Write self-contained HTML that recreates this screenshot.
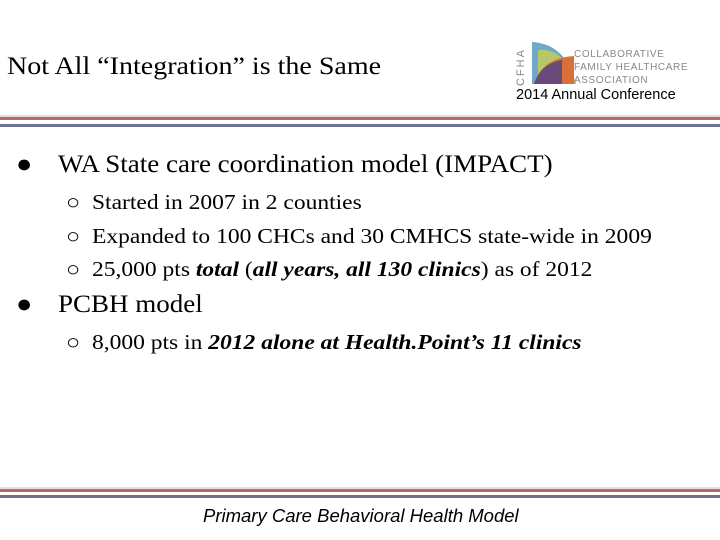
<!DOCTYPE html>
<html><head><meta charset="utf-8"><style>
body{margin:0;width:720px;height:540px;background:#fff;position:relative;overflow:hidden;font-family:"Liberation Serif",serif;}
.a{position:absolute;white-space:nowrap;transform-origin:0 0;}
.red{position:absolute;left:0;width:720px;height:3px;background:#b86a66;}
.blue{position:absolute;left:0;width:720px;height:3px;background:#6e7290;}
.shade{position:absolute;left:0;width:720px;height:3px;background:#e6dde2;}
.main{font-size:25px;transform:scaleX(1.08);}
.sub{font-size:21px;transform:scaleX(1.12);}
</style></head><body>
<div class="a" style="left:7px;top:53px;font-size:25px;transform:scaleX(1.12);">Not All “Integration” is the Same</div>
<svg style="position:absolute;left:512px;top:36px" width="190" height="52">
<text x="12" y="50" transform="rotate(-90 12 50)" font-family="Liberation Sans" font-size="11" fill="#888" letter-spacing="2">CFHA</text>
<path d="M20 6 Q54 8 64 48 L20 48Z" fill="#6fa8c8"/>
<path d="M26 14 Q52 11 64 48 L26 48Z" fill="#c8d050" opacity=".8"/>
<path d="M22 48 Q30 22 62 20 L62 48Z" fill="#d87038"/>
<path d="M22 48 Q28 28 50 24 L50 48Z" fill="#6a4a7a"/>
<text x="62" y="21" font-family="Liberation Sans" font-size="10" fill="#888" letter-spacing="0.6">COLLABORATIVE</text>
<text x="62" y="34" font-family="Liberation Sans" font-size="10" fill="#888" letter-spacing="0.6">FAMILY HEALTHCARE</text>
<text x="62" y="47" font-family="Liberation Sans" font-size="10" fill="#888" letter-spacing="0.6">ASSOCIATION</text>
</svg>
<div class="a" style="left:516px;top:87px;font-family:'Liberation Sans',sans-serif;font-size:14.5px;">2014 Annual Conference</div>
<div class="shade" style="top:115px"></div><div class="red" style="top:117px"></div><div class="blue" style="top:124px"></div>
<div class="a main" style="left:16px;top:151px;">●</div>
<div class="a main" style="left:58px;top:151px;">WA State care coordination model (IMPACT)</div>
<div class="a sub" style="left:66px;top:190px;">○&nbsp;&nbsp;Started in 2007 in 2 counties</div>
<div class="a sub" style="left:66px;top:224px;">○&nbsp;&nbsp;Expanded to 100 CHCs and 30 CMHCS state-wide in 2009</div>
<div class="a sub" style="left:66px;top:257px;">○&nbsp;&nbsp;25,000 pts <b><i>total</i></b> (<b><i>all years, all 130 clinics</i></b>) as of 2012</div>
<div class="a main" style="left:16px;top:291px;">●</div>
<div class="a main" style="left:58px;top:291px;">PCBH model</div>
<div class="a sub" style="left:66px;top:330px;">○&nbsp;&nbsp;8,000 pts in <b><i>2012 alone at Health.Point’s 11 clinics</i></b></div>
<div class="shade" style="top:487px"></div><div class="red" style="top:489px"></div><div class="blue" style="top:495px"></div>
<div class="a" style="left:203px;top:505px;font-family:'Liberation Sans',sans-serif;font-size:18.5px;font-style:italic;">Primary Care Behavioral Health Model</div>
</body></html>
